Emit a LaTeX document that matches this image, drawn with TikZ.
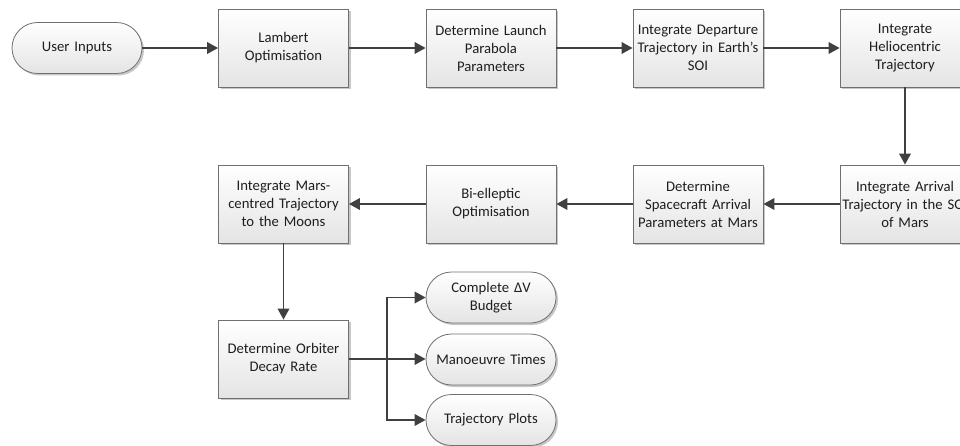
\documentclass[tikz,border=0pt]{standalone}
\usepackage{fontspec}
\setmainfont{Carlito}
\usetikzlibrary{arrows.meta,shadows}

\definecolor{boxline}{HTML}{707070}
\definecolor{boxbot}{HTML}{E4E4E4}
\definecolor{flowc}{HTML}{404040}
\definecolor{txt}{HTML}{1E1E1E}

\begin{document}
\begin{tikzpicture}[x=1pt,y=-1pt,
  box/.style={draw=boxline, line width=0.8pt, top color=white, bottom color=boxbot,
    minimum width=130pt, minimum height=78pt, text width=126pt, align=center,
    inner sep=0pt, text=txt, font=\fontsize{14.7}{18}\selectfont,
    drop shadow={shadow xshift=2pt, shadow yshift=-2pt, opacity=0.22, fill=black}},
  term/.style={box, minimum height=51pt, rounded corners=25.5pt},
  wire/.style={draw=flowc, line width=1.9pt},
  flow/.style={wire, -{Triangle[length=11pt,width=11.5pt]}}]

\useasboundingbox (0,0) rectangle (960,446);
\clip (0,0) rectangle (960,446);

% first row
\node[term] (ui)  at (77,48)    {User Inputs};
\node[box]  (lam) at (283.5,48) {Lambert\\Optimisation};
\node[box]  (par) at (491,48)   {Determine Launch\\Parabola\\Parameters};
\node[box]  (dep) at (698,48)   {Integrate Departure\\Trajectory in Earth's\\SOI};
\node[box]  (hel) at (905,48)   {Integrate\\Heliocentric\\Trajectory};

% second row
\node[box]  (arr) at (905,204)   {Integrate Arrival\\Trajectory in the SOI\\of Mars};
\node[box]  (sc)  at (698,204)   {Determine\\Spacecraft Arrival\\Parameters at Mars};
\node[box]  (bi)  at (491,204)   {Bi-elleptic\\Optimisation};
\node[box]  (mc)  at (283.5,204) {Integrate Mars-\\centred Trajectory\\to the Moons};

% third row and outputs
\node[box]  (orb) at (283.5,359) {Determine Orbiter\\Decay Rate};
\node[term] (dv)  at (491,297.5) {Complete ΔV\\Budget};
\node[term] (mt)  at (491,359.5) {Manoeuvre Times};
\node[term] (tp)  at (491,420)   {Trajectory Plots};
\coordinate (br) at (387,359);

% connectors
\draw[flow] (ui.east) -- (lam.west);
\draw[flow] (lam) -- (par);
\draw[flow] (par) -- (dep);
\draw[flow] (dep) -- (hel);
\draw[flow] (hel) -- (arr);
\draw[flow] (arr) -- (sc);
\draw[flow] (sc) -- (bi);
\draw[flow] (bi) -- (mc);
\draw[flow] (mc) -- (orb);
\draw[wire] (orb.east) -- (br);
\draw[flow] (br) |- (dv.west);
\draw[flow] (br) -- (br -| mt.west);
\draw[flow] (br) |- (tp.west);
\end{tikzpicture}
\end{document}
